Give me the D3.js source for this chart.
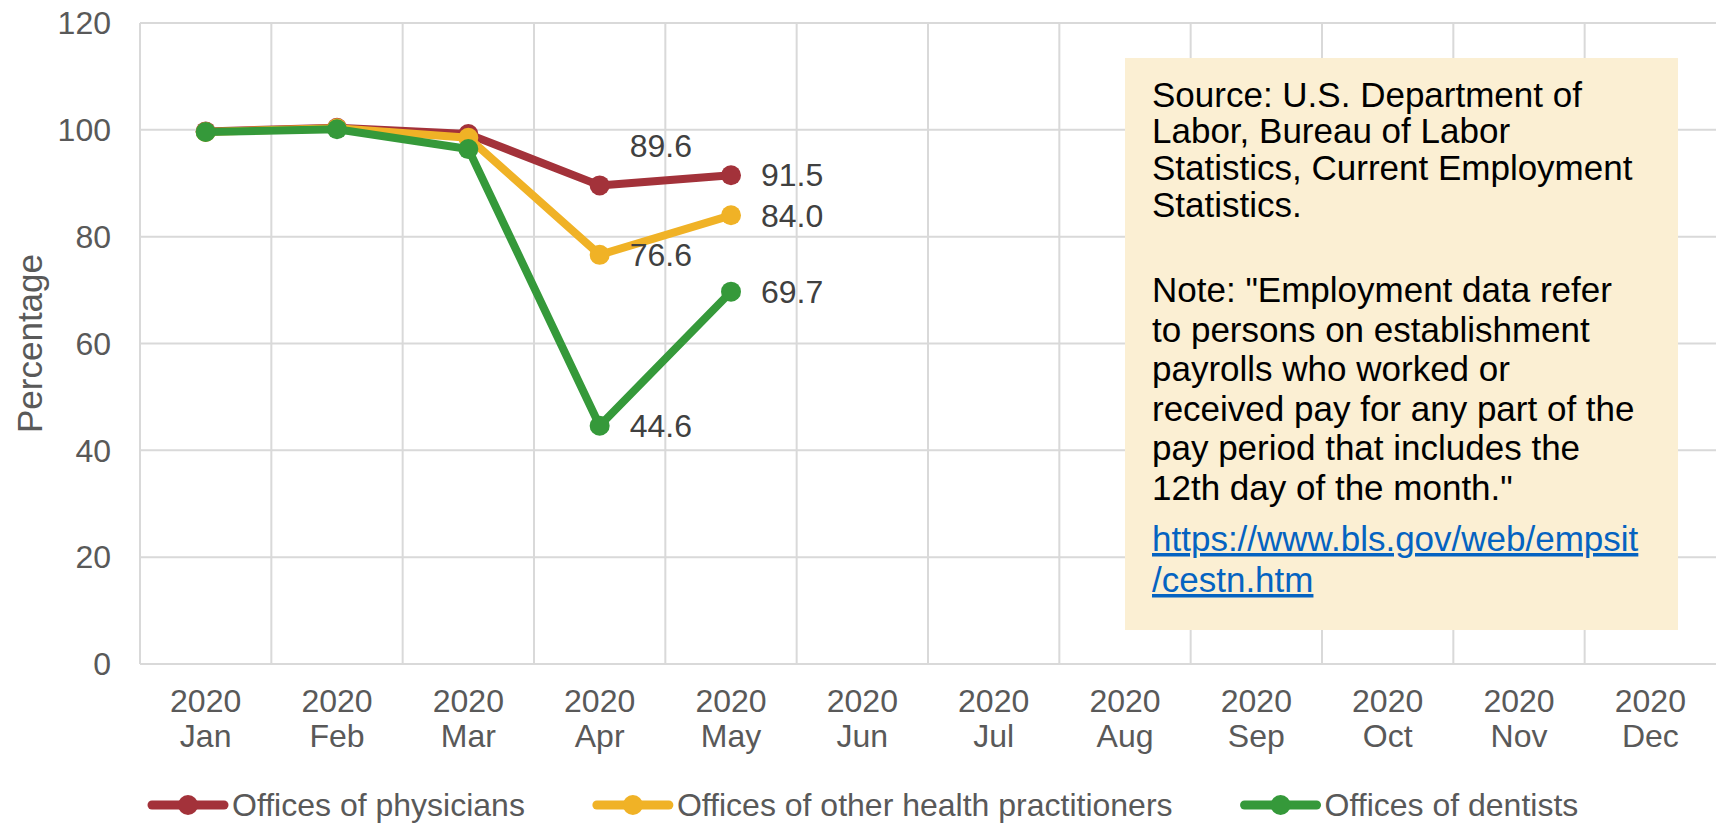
<!DOCTYPE html>
<html>
<head>
<meta charset="utf-8">
<script src="https://cdn.jsdelivr.net/npm/d3@7"></script>
<style>
  html, body { margin: 0; padding: 0; background: #ffffff; }
  svg { display: block; font-family: "Liberation Sans", Arial, Helvetica, sans-serif; }
</style>
</head>
<body>
<svg id="chart" width="1716" height="824"></svg>
<script>
// ---- data ----
const months = ["Jan", "Feb", "Mar", "Apr", "May", "Jun", "Jul", "Aug", "Sep", "Oct", "Nov", "Dec"];
const year = "2020";
const yTicks = [0, 20, 40, 60, 80, 100, 120];
const seriesNames = ["Offices of physicians", "Offices of other health practitioners", "Offices of dentists"];
const physicians = [99.7, 100.4, 99.2, 89.6, 91.5];
const otherPractitioners = [99.6, 100.3, 98.5, 76.6, 84.0];
const dentists = [99.6, 100.1, 96.4, 44.6, 69.7];
const labeledMonths = ["Apr", "May"];
const noteLines1 = ["Source: U.S. Department of", "Labor, Bureau of Labor", "Statistics, Current Employment", "Statistics."];
const noteLines2 = ["Note: \"Employment data refer", "to persons on establishment", "payrolls who worked or", "received pay for any part of the", "pay period that includes the", "12th day of the month.\""];
const linkLines = ["https://www.bls.gov/web/empsit", "/cestn.htm"];

const colors = ["#A3323A", "#F0B226", "#35993A"];
const seriesValues = [physicians, otherPractitioners, dentists];

(function () {
// ---- layout ----
const svg = d3.select("#chart");
const plotLeft = 140, plotRight = 1716, plotTop = 23, plotBottom = 664;
const x = d3.scaleBand().domain(months).range([plotLeft, plotRight]).padding(0);
const y = d3.scaleLinear().domain([0, 120]).range([plotBottom, plotTop]);
const font = 32;
const gridColor = "#d9d9d9";
const tickColor = "#595959";

// horizontal gridlines
svg.append("g").selectAll("line").data(yTicks).join("line")
  .attr("x1", plotLeft).attr("x2", plotRight)
  .attr("y1", d => y(d)).attr("y2", d => y(d))
  .attr("stroke", gridColor).attr("stroke-width", 2);

// vertical gridlines at band boundaries
svg.append("g").selectAll("line").data(months).join("line")
  .attr("x1", d => x(d)).attr("x2", d => x(d))
  .attr("y1", y(120)).attr("y2", y(0))
  .attr("stroke", gridColor).attr("stroke-width", 2);

// y tick labels
svg.append("g").selectAll("text").data(yTicks).join("text")
  .attr("x", 111).attr("y", d => y(d))
  .attr("dy", "0.35em")
  .attr("text-anchor", "end")
  .attr("font-size", font)
  .attr("fill", tickColor)
  .text(d => d);

// x tick labels
const xt = svg.append("g").selectAll("text").data(months).join("text")
  .attr("text-anchor", "middle")
  .attr("font-size", font)
  .attr("fill", tickColor);
xt.append("tspan").attr("x", d => x(d) + x.bandwidth() / 2).attr("y", 712).text(year);
xt.append("tspan").attr("x", d => x(d) + x.bandwidth() / 2).attr("y", 747).text(d => d);

// y axis title
svg.append("text")
  .attr("transform", "translate(42," + ((plotTop + plotBottom) / 2) + ") rotate(-90)")
  .attr("text-anchor", "middle")
  .attr("font-size", 35)
  .attr("fill", tickColor)
  .text("Percentage");

// series lines and points
const cx = (i) => x(months[i]) + x.bandwidth() / 2;
const line = d3.line().x((d, i) => cx(i)).y(d => y(d));
seriesValues.forEach((vals, s) => {
  const g = svg.append("g");
  g.append("path").datum(vals)
    .attr("d", line)
    .attr("fill", "none")
    .attr("stroke", colors[s])
    .attr("stroke-width", 8)
    .attr("stroke-linejoin", "round");
  g.selectAll("circle").data(vals).join("circle")
    .attr("cx", (d, i) => cx(i)).attr("cy", d => y(d))
    .attr("r", 10).attr("fill", colors[s]);
});

// data labels (Apr and May)
seriesValues.forEach((vals, s) => {
  vals.forEach((v, i) => {
    if (!labeledMonths.includes(months[i])) return;
    const above = (s === 0 && months[i] === "Apr");
    svg.append("text")
      .attr("x", cx(i) + 30)
      .attr("y", above ? y(v) - 28 : y(v))
      .attr("dy", above ? 0 : "0.35em")
      .attr("font-size", font)
      .attr("fill", "#404040")
      .text(v.toFixed(1));
  });
});

// note box
const box = svg.append("g");
box.append("rect")
  .attr("x", 1125).attr("y", 58).attr("width", 553).attr("height", 572)
  .attr("fill", "#FBEFD3");
const boxFont = 35, tx = 1152;
noteLines1.forEach((t, i) => {
  box.append("text").attr("x", tx).attr("y", 106.5 + i * 36.8)
    .attr("font-size", boxFont).attr("fill", "#000000").text(t);
});
noteLines2.forEach((t, i) => {
  box.append("text").attr("x", tx).attr("y", 302 + i * 39.6)
    .attr("font-size", boxFont).attr("fill", "#000000").text(t);
});
linkLines.forEach((t, i) => {
  box.append("text").attr("x", tx).attr("y", 551 + i * 41)
    .attr("font-size", boxFont).attr("fill", "#0563C1")
    .attr("text-decoration", "underline").text(t);
});

// legend
const leg = svg.append("g");
let lx = 152;
const ly = 805;
seriesNames.forEach((name, s) => {
  leg.append("line").attr("x1", lx).attr("x2", lx + 72).attr("y1", ly).attr("y2", ly)
    .attr("stroke", colors[s]).attr("stroke-width", 9).attr("stroke-linecap", "round");
  leg.append("circle").attr("cx", lx + 36).attr("cy", ly).attr("r", 10).attr("fill", colors[s]);
  const t = leg.append("text").attr("x", lx + 80).attr("y", ly).attr("dy", "0.35em")
    .attr("font-size", 32).attr("fill", tickColor).text(name);
  lx += 80 + t.node().getComputedTextLength() + 72;
});
})();
</script>
</body>
</html>
